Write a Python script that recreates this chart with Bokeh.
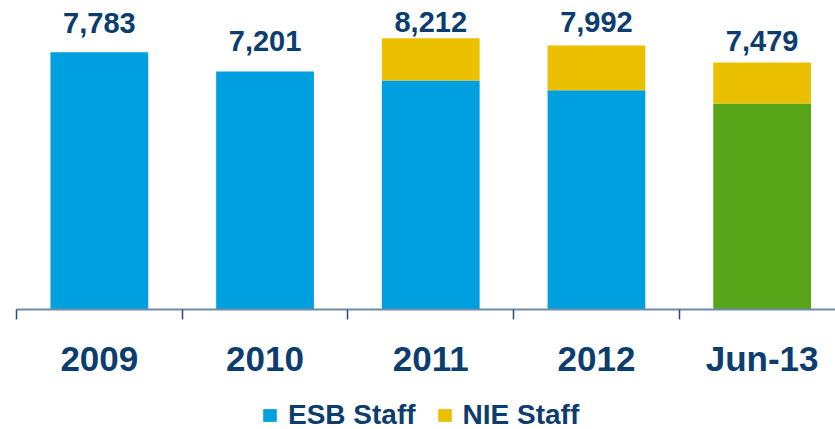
from bokeh.plotting import figure
from bokeh.layouts import column
from bokeh.models import ColumnDataSource, Range1d, FixedTicker, LinearAxis, Legend, LegendItem
from bokeh.core.properties import value
from bokeh.embed import file_html
from bokeh.resources import INLINE

# ---- data ----
categories = ["2009", "2010", "2011", "2012", "Jun-13"]
esb_staff = [7783, 7201, 6930, 6636, 6233]
nie_staff = [0, 0, 1282, 1356, 1246]
series_names = ["ESB Staff", "NIE Staff"]

# ---- styles ----
BLUE = "#00A0E0"
YELLOW = "#EBC000"
GREEN = "#58A51A"
NAVY = "#0C3D6F"
FONT = "Liberation Sans"
esb_colors = [BLUE, BLUE, BLUE, BLUE, GREEN]
label_lift_px = [29.8, 30.1, 16.0, 23.2, 20.9]

totals = [e + n for e, n in zip(esb_staff, nie_staff)]
xs = [i + 0.5 for i in range(len(categories))]

src = ColumnDataSource(dict(
    x=xs, esb=esb_staff, nie_top=totals, total=totals,
    label=[f"{t:,}" for t in totals], esb_color=esb_colors,
    lift=[-v for v in label_lift_px],
))

cat_px = 165.7
frame_w = 819
p = figure(width=835, height=389,
           x_range=Range1d(0, frame_w / cat_px), y_range=Range1d(0, 9110),
           output_backend="svg", toolbar_location=None, y_axis_location=None,
           min_border_left=16, min_border_right=0, min_border_top=8, min_border_bottom=80,
           outline_line_color=None)
p.xgrid.grid_line_color = None
p.ygrid.grid_line_color = None

p.vbar(x="x", width=0.59, bottom=0, top="esb", source=src,
       fill_color="esb_color", line_color=None)
p.vbar(x="x", width=0.59, bottom="esb", top="nie_top", source=src,
       fill_color=YELLOW, line_color=None)

p.text(x="x", y="total", text="label", source=src, y_offset="lift",
       text_align="center", text_baseline="alphabetic",
       text_font=value(FONT), text_font_style="bold", text_font_size="29px",
       text_color=NAVY)

# axis with boundary ticks
ticks = list(range(len(categories) + 1))
ax = p.xaxis[0]
ax.ticker = FixedTicker(ticks=ticks)
ax.major_label_overrides = {t: "" for t in ticks}
ax.major_tick_out = 10
ax.major_tick_in = 0
ax.minor_tick_line_color = None
ax.major_label_standoff = 0
ax.axis_line_width = 2
ax.axis_line_color = "#6F8CAB"
ax.major_tick_line_color = "#1F4F7E"
ax.major_tick_line_width = 1.5

# category label axis
lab_ax = LinearAxis(ticker=FixedTicker(ticks=xs),
                    major_label_overrides={x: c for x, c in zip(xs, categories)},
                    axis_line_color=None, major_tick_line_color=None,
                    minor_tick_line_color=None, major_tick_out=0, major_tick_in=0,
                    major_label_standoff=19,
                    major_label_text_font=FONT, major_label_text_font_style="bold",
                    major_label_text_font_size="35px", major_label_text_color=NAVY)
p.add_layout(lab_ax, "below")

# legend strip (key swatches use zero-height proxy bars)
p2 = figure(width=835, height=40, x_range=Range1d(0, 1), y_range=Range1d(0, 1),
            output_backend="svg", toolbar_location=None,
            x_axis_location=None, y_axis_location=None,
            min_border_left=0, min_border_right=0, min_border_top=0, min_border_bottom=0,
            outline_line_color=None)
p2.xgrid.grid_line_color = None
p2.ygrid.grid_line_color = None
k_esb = p2.vbar(x=[0.5], bottom=[0], top=[0], width=0.1, fill_color=BLUE, line_color=None)
k_nie = p2.vbar(x=[0.5], bottom=[0], top=[0], width=0.1, fill_color=YELLOW, line_color=None)
legend = Legend(items=[LegendItem(label=series_names[0], renderers=[k_esb]),
                       LegendItem(label=series_names[1], renderers=[k_nie])],
                orientation="horizontal", location=(245, -2),
                glyph_width=17, glyph_height=16, label_standoff=10, spacing=20,
                margin=0, padding=0, border_line_color=None,
                background_fill_alpha=0,
                label_text_font=FONT, label_text_font_style="bold",
                label_text_font_size="28px", label_text_color=NAVY)
p2.add_layout(legend)

open("out.html", "w").write(file_html(column(p, p2), INLINE))
